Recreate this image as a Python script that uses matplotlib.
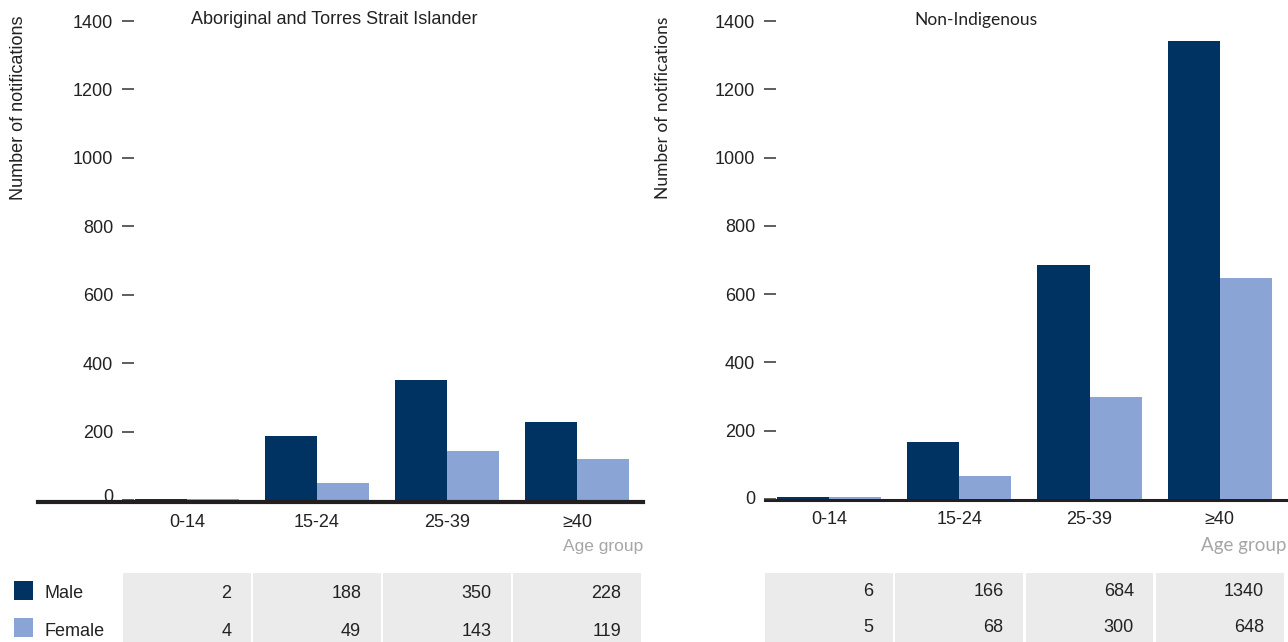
import numpy as np
import matplotlib
matplotlib.use("Agg")
import matplotlib.pyplot as plt
from matplotlib.patches import Rectangle
from matplotlib.transforms import blended_transform_factory, ScaledTranslation

plt.rcParams['font.family'] = ['Liberation Sans', 'DejaVu Sans']

# Данные
age_groups = ['0-14', '15-24', '25-39', '≥40']
indig_male = [2, 188, 350, 228]
indig_female = [4, 49, 143, 119]
nonindig_male = [6, 166, 684, 1340]
nonindig_female = [5, 68, 300, 648]
sexes = ['Male', 'Female']
panel_titles = ['Aboriginal and Torres Strait Islander', 'Non-Indigenous']
yticks = [0, 200, 400, 600, 800, 1000, 1200, 1400]

male_color = '#003262'
female_color = '#8AA5D5'
cell_color = '#EBEBEB'
W, H = 1288, 642


def fx(px):
    return px / W


def fy(py):
    return 1 - py / H


fig = plt.figure(figsize=(W / 100, H / 100), dpi=100)

panels = [
    dict(rect=[fx(134), fy(500), 509 / W, 479 / H], male=indig_male, female=indig_female,
         title=panel_titles[0], title_x=334, title_font='Liberation Sans', title_size=13,
         ylab_x=19, ylab_font='Liberation Sans', ylab_size=13, base_start=-0.189,
         base_y=-6, base_lw=3.0, base_z=3, xlim=(-0.408, 3.508), xpad=10, zero_up=4,
         legend=True, age_x=643, age_font='Liberation Sans', age_size=12.5,
         row_y=(594, 631)),
    dict(rect=[fx(776), fy(499), 512 / W, 478 / H], male=nonindig_male, female=nonindig_female,
         title=panel_titles[1], title_x=976, title_font='Lato', title_size=12.5,
         ylab_x=663, ylab_font='Lato', ylab_size=12.5, base_start=-0.021,
         base_y=-4, base_lw=2.2, base_z=1, xlim=(-0.407, 3.523), xpad=9, zero_up=2,
         legend=False, age_x=1286, age_font='Lato', age_size=13.5,
         row_y=(591, 628)),
]

bw = 0.4
for p in panels:
    ax = fig.add_axes(p['rect'])
    x = np.arange(len(age_groups))
    ax.bar(x - bw / 2, p['male'], bw, color=male_color, zorder=2)
    ax.bar(x + bw / 2, p['female'], bw, color=female_color, zorder=2)
    ax.set_xlim(*p['xlim'])
    ax.set_ylim(0, 1400)
    for s in ax.spines.values():
        s.set_visible(False)
    ax.set_yticks(yticks)
    ax.tick_params(axis='y', length=8.6, width=1.1, color='#333333', pad=6.5, labelsize=13,
                   labelcolor='#222222')
    ax.set_xticks(x)
    ax.set_xticklabels(age_groups)
    ax.tick_params(axis='x', length=0, pad=p['xpad'], labelsize=13, labelcolor='#222222')
    # подпись "0" чуть выше базовой линии
    zero_lab = ax.get_yticklabels()[0]
    zero_lab.set_transform(zero_lab.get_transform()
                           + ScaledTranslation(0, p['zero_up'] / 100, fig.dpi_scale_trans))
    # базовая линия
    ax.axhline(p['base_y'], xmin=p['base_start'], xmax=1, color='#231F20', lw=p['base_lw'],
               zorder=p['base_z'], clip_on=False)

    fig.text(fx(p['title_x']), fy(20), p['title'], ha='center', va='center',
             fontsize=p['title_size'], family=p['title_font'], color='#222222')
    fig.text(fx(p['ylab_x']), fy(108), 'Number of notifications', rotation=90,
             ha='center', va='center', fontsize=p['ylab_size'], family=p['ylab_font'],
             color='#222222')
    fig.text(fx(p['age_x']), fy(546), 'Age group', ha='right', va='center',
             fontsize=p['age_size'], color='#A6A6A6', family=p['age_font'])

    # таблица значений
    tr = blended_transform_factory(ax.transData, fig.transFigure)
    rows = [p['male'], p['female']]
    for i in range(len(age_groups)):
        ax.add_patch(Rectangle((i - 0.49, fy(642)), 0.98, (642 - 573) / H, transform=tr,
                               facecolor=cell_color, edgecolor='none', clip_on=False))
        for r, vals in enumerate(rows):
            ax.text(i + 0.34, fy(p['row_y'][r]), str(vals[i]), transform=tr,
                    ha='right', va='center', fontsize=13, color='#222222')
    if p['legend']:
        for r, (lab, c) in enumerate(zip(sexes, [male_color, female_color])):
            yc = p['row_y'][r]
            fig.patches.append(Rectangle((fx(14), fy(yc + 6)), 19 / W, 19 / H,
                                         transform=fig.transFigure, facecolor=c,
                                         edgecolor='none'))
            fig.text(fx(45), fy(yc), lab, ha='left', va='center', fontsize=13,
                     color='#222222')

fig.savefig('out.png', dpi=100)
